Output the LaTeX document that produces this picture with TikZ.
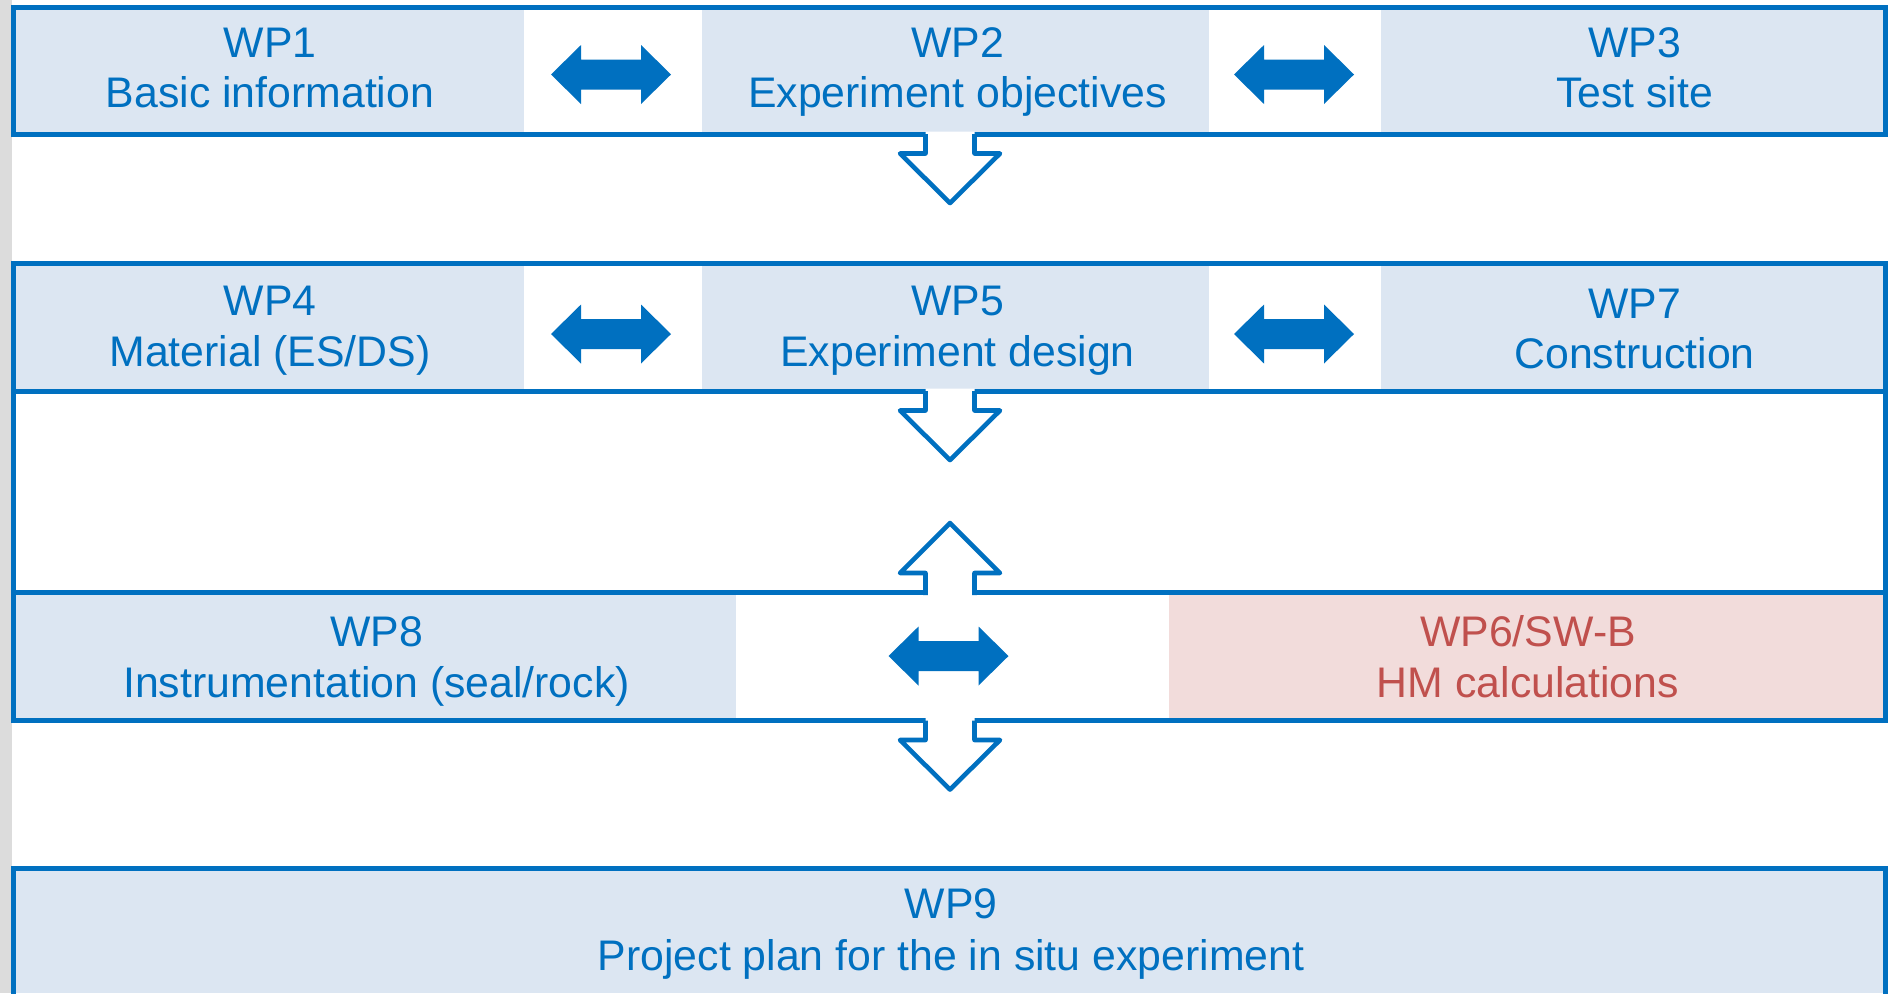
\documentclass[tikz,border=0pt]{standalone}
\usepackage{fontspec}
\setmainfont{Liberation Sans}
\definecolor{bl}{HTML}{0070C0}
\definecolor{lb}{HTML}{DCE6F2}
\definecolor{pk}{HTML}{F2DCDB}
\definecolor{rd}{HTML}{C0504D}
\definecolor{gr}{HTML}{DCDCDC}
\tikzset{
  txt/.style={inner sep=0pt, anchor=base, font=\fontsize{21.4}{25}\selectfont, text=bl},
  rtxt/.style={txt, text=rd},
  bord/.style={draw=bl, line width=2.5pt},
  blkline/.style={draw=bl, line width=2.3pt, line join=round, line cap=butt},
  pics/dblarrow/.style={code={
    \fill[bl] (-60,0) -- (-30,-29.5) -- (-30,-15) -- (30,-15) -- (30,-29.5) -- (60,0)
      -- (30,29.5) -- (30,15) -- (-30,15) -- (-30,29.5) -- cycle;}},
  pics/blkdown/.style={code={
    \fill[white] (-24.5,-2.5) -- (-24.5,19.5) -- (-50,19.5) -- (0,69) -- (50,19.5)
      -- (24.5,19.5) -- (24.5,-2.5) -- cycle;
    \draw[blkline] (-24.5,0) -- (-24.5,19.5) -- (-50,19.5) -- (0,69) -- (50,19.5)
      -- (24.5,19.5) -- (24.5,0);}},
  pics/blkup/.style={code={
    \fill[white] (-24.5,2.5) -- (-24.5,-19.5) -- (-50,-19.5) -- (0,-69.5) -- (50,-19.5)
      -- (24.5,-19.5) -- (24.5,2.5) -- cycle;
    \draw[blkline] (-24.5,2.5) -- (-24.5,-19.5) -- (-50,-19.5) -- (0,-69.5) -- (50,-19.5)
      -- (24.5,-19.5) -- (24.5,2.5);}}
}
\begin{document}
\begin{tikzpicture}[x=0.5pt,y=-0.5pt]
\useasboundingbox (0,0) rectangle (1888,993);
\clip (0,0) rectangle (1888,993);
\fill[white] (0,0) rectangle (1888,993);
\fill[gr] (0,0) rectangle (12,993);
% fills
\fill[lb] (15.5,9.5) rectangle (524,131.5);
\fill[lb] (702,9.5) rectangle (1209,131.5);
\fill[lb] (1381,9.5) rectangle (1882.5,131.5);
\fill[lb] (15.5,266) rectangle (524,388.5);
\fill[lb] (702,266) rectangle (1209,388.5);
\fill[lb] (1381,266) rectangle (1882.5,388.5);
\fill[lb] (15.5,595) rectangle (736,718);
\fill[pk] (1169,595) rectangle (1882.5,718);
\fill[lb] (15.5,871) rectangle (1882.5,993);
% borders
\draw[bord] (13,7) rectangle (1885,134);
\draw[bord] (13,263.5) rectangle (1885,720.5);
\draw[bord] (13,391) -- (1885,391);
\draw[bord] (13,592.5) -- (1885,592.5);
\draw[bord] (13,1000) -- (13,868.5) -- (1885,868.5) -- (1885,1000);
% texts
\node[txt] (wp1a) at (270,57) {WP1};
\node[txt] (wp1b) at (270,107) {Basic information};
\node[txt] (wp2a) at (957.5,57) {WP2};
\node[txt] (wp2b) at (957.5,107) {Experiment objectives};
\node[txt] (wp3a) at (1634.5,57) {WP3};
\node[txt] (wp3b) at (1634.5,107) {Test site};
\node[txt] (wp4a) at (270,315.5) {WP4};
\node[txt] (wp4b) at (270,366) {Material (ES/DS)};
\node[txt] (wp5a) at (957.5,315.5) {WP5};
\node[txt] (wp5b) at (957.5,366) {Experiment design};
\node[txt] (wp7a) at (1634.5,318) {WP7};
\node[txt] (wp7b) at (1634.5,368.5) {Construction};
\node[txt] (wp8a) at (376.5,646) {WP8};
\node[txt] (wp8b) at (376.5,697) {Instrumentation (seal/rock)};
\node[rtxt] (wp6a) at (1528,646) {WP6/SW-B};
\node[rtxt] (wp6b) at (1528,697) {HM calculations};
\node[txt] (wp9a) at (951,918) {WP9};
\node[txt] (wp9b) at (951,970) {Project plan for the in situ experiment};
% double arrows
\pic (d12) at (611,74.5) {dblarrow};
\pic (d23) at (1294,74.5) {dblarrow};
\pic (d45) at (611,334) {dblarrow};
\pic (d57) at (1294,334) {dblarrow};
\pic (d86) at (948.5,656) {dblarrow};
% block arrows
\pic (b1) at (950,134) {blkdown};
\pic (b2) at (950,391) {blkdown};
\pic (b3) at (950,592.5) {blkup};
\pic (b4) at (950,720.5) {blkdown};
\end{tikzpicture}
\end{document}
